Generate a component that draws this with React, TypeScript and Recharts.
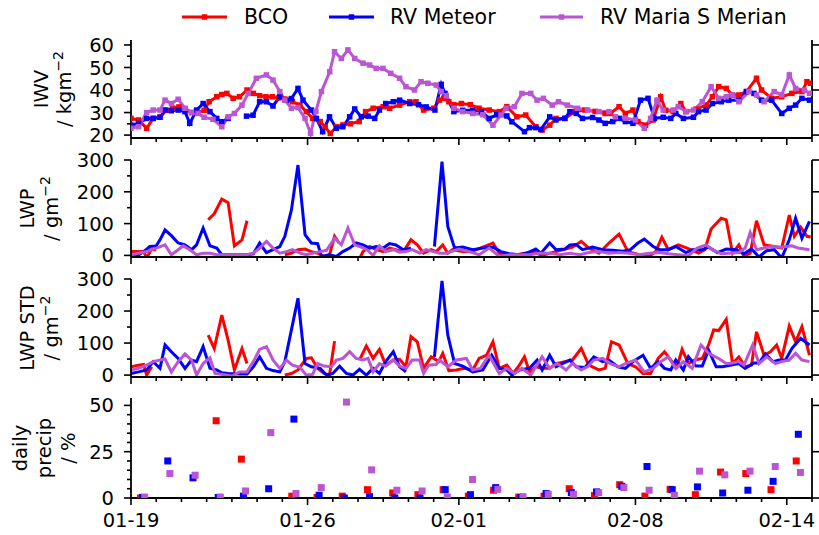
import React from 'react'
import { LineChart, Line, ScatterChart, Scatter, XAxis, YAxis } from 'recharts'

const RED = '#ff0000'
const BLUE = '#0000ff'
const PURPLE = '#ba55d3'
const FONT = '"DejaVu Sans", sans-serif'

type Pt = [number, number | null]

// time axis: days since 01-19 00:00
const dayTicks = [0, 1, 2, 3, 4, 5, 6, 7, 8, 9, 10, 11, 12, 13, 14, 15, 16, 17, 18, 19, 20, 21, 22, 23, 24, 25, 26, 27]
const dateTickDays = [0, 7, 13, 20, 26]
const dateLabels = ['01-19', '01-26', '02-01', '02-08', '02-14']

// IWV / kg m-2
const iwvBco: Pt[] = [
  [0, 27.4], [0.3, 26.7], [0.62, 23], [0.88, 27.4], [1.15, 28], [1.4, 31], [1.65, 32], [1.9, 32.5], [2.15, 31.5],
  [2.4, 30], [2.65, 30], [2.9, 31], [3.1, 34.8], [3.4, 37], [3.6, 38], [3.8, 38.5], [4.05, 36.3], [4.3, 37],
  [4.6, 40], [4.85, 38.5], [5.1, 37.5], [5.35, 37], [5.6, 37], [5.85, 36.5], [6.1, 36], [6.4, 34.8], [6.7, 33.3],
  [6.95, 30.4], [7.2, 27.4], [7.5, 26], [7.7, 23.5], [7.9, 20.7], [8.15, 23.7], [8.4, 24.5], [8.7, 25], [9.05, 26],
  [9.3, 30.4], [9.6, 31.9], [10, 32.6], [10.25, 31.9], [10.65, 33.3], [11.05, 34.8], [11.3, 34.8], [11.6, 31.1],
  [12, 31.9], [12.23, 35.5], [12.4, 36.3], [12.6, 34.8], [12.8, 33.5], [13.1, 34], [13.45, 33.5], [13.8, 31.9],
  [14.2, 31.1], [14.6, 30.4], [14.9, 32.6], [15.3, 28.1], [15.65, 28.9], [16.05, 23.7], [16.3, 22.2], [16.6, 24.4],
  [16.85, 27.4], [17.2, 27.4], [17.6, 30.4], [18, 31.1], [18.4, 30.5], [18.8, 29.6], [19, 29.6], [19.35, 32.6],
  [19.6, 29.6], [19.9, 31.1], [20.1, 26], [20.4, 24.4], [20.7, 26.7], [21, 37], [21.2, 31], [21.5, 30.4], [21.8, 34],
  [22, 30.4], [22.4, 31.5], [22.8, 33.3], [23.05, 37], [23.3, 41.5], [23.6, 40.7], [23.85, 37.8], [24.1, 37.8],
  [24.4, 39.3], [24.8, 45.2], [25, 40], [25.4, 36.3], [25.8, 37], [26.2, 38.5], [26.6, 39.3], [26.8, 43.7], [26.95, 43],
]
const iwvMeteor: Pt[] = [
  [0, 24.4], [0.3, 25.2], [0.62, 27.4], [0.88, 27.4], [1.15, 27.9], [1.35, 31.1], [1.6, 30.8], [1.87, 31.1],
  [2.14, 30.4], [2.33, 25.2], [2.6, 31.1], [2.86, 34], [3.13, 30.4], [3.4, 27.4], [3.6, 25.9], [3.85, 27.4],
  [4.2, null], [4.58, 28.4], [4.84, 28.8], [5.1, 34.8], [5.37, 34.8], [5.63, 32.9], [5.9, 37], [6.16, 35.5],
  [6.36, 36.2], [6.62, 40.7], [6.82, 35.5], [7.15, 31.1], [7.35, 27.4], [7.6, 21.5], [7.87, 28.1], [8.14, 23],
  [8.4, 23.7], [8.67, 28.1], [8.87, 31.6], [9.13, 28.1], [9.4, 28.4], [9.66, 27.4], [9.85, 31.1], [10.1, 34],
  [10.4, 34.8], [10.65, 35.5], [11.05, 34], [11.4, 33.5], [11.7, 32.5], [12.05, 31.1], [12.3, 42.5], [12.45, 38.5],
  [12.8, 30.4], [13.15, 31], [13.55, 31], [13.9, 30.4], [14.2, 27.4], [14.5, 29], [14.9, 28.5], [15.1, 25.9],
  [15.6, 21.5], [15.8, 23.3], [16.05, 23.3], [16.25, 22.5], [16.6, 28.1], [16.85, 26.7], [17.2, 27.4], [17.4, 30.4],
  [17.65, 29.6], [17.9, 27.4], [18.3, 27.8], [18.55, 26.7], [18.8, 25.2], [19.1, 26], [19.35, 27.4], [19.6, 26],
  [19.9, 25.2], [20.2, 35.5], [20.5, 36.3], [20.75, 27.4], [21.1, 27.9], [21.4, 27.4], [21.6, 29.6], [21.9, 27.4],
  [22.3, 27.9], [22.5, 30.4], [22.8, 31.1], [23.05, 34], [23.4, 34.8], [23.7, 35.5], [24.1, 35.5], [24.4, 39.3],
  [24.7, 38.5], [25, 35.5], [25.4, 35.5], [25.8, 29.6], [26.1, 31.9], [26.35, 33.3], [26.6, 36.3], [26.9, 35.5],
]
const iwvMerian: Pt[] = [
  [0, 23], [0.3, 23.7], [0.62, 30], [0.88, 31.1], [1.15, 31.1], [1.35, 35.5], [1.6, 34], [1.87, 35.9], [2.14, 31.9],
  [2.4, 30], [2.66, 29.6], [2.9, 27.9], [3.25, 27], [3.6, 23.7], [3.85, 28.1], [4.1, 29.6], [4.4, 33.3], [4.65, 38.5],
  [4.97, 45.2], [5.37, 46.7], [5.63, 44.4], [5.9, 39.3], [6.1, 35.5], [6.36, 31.9], [6.62, 32.2], [6.9, 27.4],
  [7.12, 20.7], [7.33, 30.5], [7.55, 39.3], [7.88, 48.1], [8.07, 57], [8.34, 54], [8.6, 57.8], [8.87, 54], [9.2, 51.9],
  [9.46, 51.1], [9.72, 49.6], [9.99, 49.6], [10.3, 47.4], [10.65, 45.2], [10.9, 41.5], [11.24, 40], [11.5, 43.7],
  [11.77, 43], [12.1, 42.2], [12.3, 39.3], [12.5, 37.5], [12.8, 31.9], [13.15, 30.4], [13.55, 29.6], [13.95, 29],
  [14.35, 24.4], [14.67, 28.9], [14.87, 31.9], [15.2, 32.6], [15.5, 38.5], [15.85, 38.5], [16.1, 35.5], [16.35, 36.3],
  [16.7, 33.3], [16.95, 34.8], [17.3, 33.3], [17.7, 31.9], [18.1, 31.1], [18.55, 30.4], [18.95, 30.4], [19.2, 28.1],
  [19.6, 27.5], [20, 26.7], [20.35, 23], [20.6, 27.4], [20.85, 35.5], [21.1, 31.1], [21.5, 31.1], [21.7, 32.6],
  [22, 30.4], [22.3, 31.1], [22.65, 34.8], [23, 41.5], [23.3, 36.3], [23.6, 37], [23.85, 37.8], [24.1, 34.8],
  [24.5, 39.3], [24.8, 37.8], [25.1, 34.8], [25.5, 39.3], [25.8, 37.8], [26.1, 46.7], [26.35, 40.7], [26.7, 40], [26.9, 38.5],
]

// LWP / g m-2
const lwpBco: Pt[] = [
  [0, 12], [0.2, 12], [0.5, 12], [0.62, -8], [0.8, 18], [1.0, 18], [1.5, null],
  [3.06, 112], [3.3, 131], [3.6, 177], [3.85, 166], [4.1, 30], [4.4, 49], [4.6, 109], [5.0, null],
  [6.1, 2], [6.36, 7], [6.62, 18], [6.9, 20], [7.15, 12], [7.4, 7], [7.65, -3], [7.87, 2], [8.07, 60], [8.25, 39], [8.6, null],
  [9.06, -10], [9.2, 12], [9.46, 28], [9.72, 18], [10, 12], [10.25, 23], [10.5, 18], [10.8, 12], [11.1, 49], [11.35, 33],
  [11.6, 7], [11.9, 18], [12.1, 12], [12.36, 33], [12.56, 7], [12.75, 18], [13.15, 12], [13.5, 12], [13.85, 23],
  [14.35, 39], [14.6, 7], [14.9, 2], [15.3, 2], [15.6, 7], [15.95, 12], [16.3, -1], [16.6, 7], [17, 15], [17.5, 26],
  [17.85, 44], [18.15, 23], [18.55, 7], [18.95, 39], [19.35, 67], [19.7, 12], [20.15, 2], [20.55, -3], [20.8, 12],
  [21.05, 57], [21.3, 18], [21.7, 33], [22.05, 23], [22.5, 7], [22.75, 18], [23, 83], [23.4, 117], [23.6, 112],
  [23.85, 7], [24.1, 33], [24.3, -3], [24.55, 7], [24.8, 109], [25.1, 33], [25.5, 28], [25.8, 23], [26.1, 127],
  [26.3, 60], [26.55, 89], [26.8, 60], [26.95, 58],
]
const lwpMeteor: Pt[] = [
  [0, -3], [0.22, -3], [0.5, 12], [0.75, 28], [1.0, 30], [1.15, 49], [1.35, 80], [1.6, 62], [1.87, 39], [2.14, 33],
  [2.4, 18], [2.6, 33], [2.86, 86], [3.13, 30], [3.4, 23], [3.6, 2], [3.85, 2], [4.2, 2], [4.6, 2], [4.85, 5],
  [5.1, 39], [5.37, 9], [5.63, 18], [5.9, 28], [6.1, 60], [6.36, 143], [6.62, 284], [6.9, 65], [7.15, 39], [7.4, 37],
  [7.55, -3], [7.87, 2], [8.14, -3], [8.4, 12], [8.67, 23], [8.93, 39], [9.2, 33], [9.46, 23], [9.72, 28], [10, 23],
  [10.25, 37], [10.5, 33], [10.8, 18], [11.1, 23], [11.5, null], [12.03, 28], [12.33, 295], [12.56, 91], [12.83, 23],
  [13.15, 26], [13.55, 18], [13.95, 23], [14.35, 26], [14.67, 12], [15, 5], [15.4, 2], [15.7, 7], [16.05, 20],
  [16.25, 7], [16.6, 39], [16.85, 18], [17.2, 20], [17.4, 33], [17.65, 34], [17.9, 18], [18.3, 26], [18.7, 18],
  [19.1, 16], [19.5, 13], [19.8, 18], [20.1, 39], [20.35, 51], [20.7, 28], [20.95, 18], [21.3, 18], [21.6, 28],
  [22, 9], [22.25, 18], [22.65, 18], [22.9, 26], [23.25, 9], [23.6, 20], [24, 18], [24.3, 5], [24.6, 20], [24.9, -5],
  [25.2, 15], [25.5, 18], [25.8, -8], [26.1, 49], [26.35, 117], [26.6, 54], [26.9, 107],
]
const lwpMerian: Pt[] = [
  [0, 2], [0.3, 7], [0.62, 12], [1.0, 23], [1.35, 33], [1.6, 2], [1.87, 18], [2.07, 30], [2.33, 18], [2.6, 2],
  [2.86, 7], [3.13, 7], [3.4, 2], [3.7, 2], [4.0, 2], [4.3, 2], [4.6, 2], [4.85, 7], [5.1, 23], [5.37, 44], [5.63, 23],
  [5.9, 7], [6.16, 12], [6.4, 18], [6.7, 7], [6.95, 2], [7.2, 7], [7.5, 12], [7.75, 16], [8.07, 54], [8.34, 33],
  [8.6, 86], [8.87, 33], [9.13, 26], [9.35, 18], [9.6, 0], [9.85, 30], [10.1, 12], [10.4, 18], [10.65, 10], [10.9, 12],
  [11.15, 18], [11.45, 7], [11.7, 18], [12.0, 12], [12.23, 7], [12.5, 7], [13.0, 20], [13.4, 12], [13.8, 2], [14.2, 23],
  [14.6, -3], [15, 2], [15.4, 2], [15.8, 2], [16.2, 7], [16.6, 7], [17, 2], [17.4, 7], [17.8, 2], [18.15, 9],
  [18.55, 12], [18.95, 7], [19.35, 9], [19.75, 7], [20.15, 2], [20.55, 7], [20.95, 9], [21.3, 5], [21.7, 2], [22.1, -1],
  [22.45, 23], [22.8, 33], [23.05, 18], [23.4, 5], [23.7, 7], [24.1, 9], [24.35, 23], [24.55, 72], [24.8, 18],
  [25.1, 23], [25.45, 28], [25.8, 26], [26.2, 30], [26.45, 23], [26.9, 18],
]

// LWP STD / g m-2
const stdBco: Pt[] = [
  [0, 26], [0.3, 31], [0.5, 33], [0.62, 0], [0.82, 26], [1.5, null],
  [3.06, 125], [3.3, 83], [3.6, 187], [3.85, 109], [4.1, 16], [4.4, 83], [4.6, 36], [5.0, null],
  [6.1, 0], [6.36, 5], [6.62, 16], [6.95, 52], [7.15, 54], [7.4, 21], [7.65, 5], [7.87, 0], [8.07, 106], [8.5, null],
  [9.06, 47], [9.33, 91], [9.6, 52], [9.85, 80], [10.1, 31], [10.4, 47], [10.65, 49], [10.9, 26], [11.1, 120],
  [11.35, 104], [11.6, 21], [11.9, 57], [12.2, 42], [12.36, 68], [12.6, 14], [12.9, 16], [13.2, 21], [13.55, 16],
  [13.8, 52], [14.1, 62], [14.35, 104], [14.6, 21], [14.9, 31], [15.15, 5], [15.4, 31], [15.6, 57], [15.8, 10],
  [16.05, 26], [16.3, 21], [16.6, 21], [16.85, 36], [17.2, 42], [17.5, 47], [17.85, 83], [18.15, 31], [18.55, 16],
  [18.8, 21], [19.05, 104], [19.35, 94], [19.7, 36], [20.0, 26], [20.3, 5], [20.6, 5], [20.9, 52], [21.15, 73],
  [21.4, 47], [21.65, 26], [21.85, 80], [22.1, 36], [22.35, 47], [22.65, 52], [22.9, 94], [23.1, 141], [23.3, 139],
  [23.6, 174], [23.85, 36], [24.1, 57], [24.35, 26], [24.6, 31], [24.8, 135], [25.1, 62], [25.35, 73], [25.6, 94],
  [25.8, 52], [26.1, 153], [26.35, 104], [26.6, 151], [26.9, 62],
]
const stdMeteor: Pt[] = [
  [0, 5], [0.3, 10], [0.62, 16], [0.88, 42], [1.15, 21], [1.35, 94], [1.6, 73], [1.87, 52], [2.14, 21], [2.4, 47],
  [2.6, 42], [2.86, 89], [3.13, 21], [3.4, 16], [3.6, 7], [3.85, 5], [4.3, 3], [4.6, 3], [4.85, 26], [5.1, 57],
  [5.37, 21], [5.63, 14], [5.9, 10], [6.1, 42], [6.36, 141], [6.62, 240], [6.9, 36], [7.15, 26], [7.5, 21], [7.75, 0],
  [8.0, 5], [8.27, 28], [8.54, 5], [8.8, 0], [9.06, 18], [9.33, 0], [9.6, 21], [9.85, 5], [10.1, 42], [10.4, 73],
  [10.65, 26], [10.9, 10], [11.4, null], [12.03, 57], [12.33, 294], [12.56, 125], [12.83, 36], [13.15, 28], [13.55, 10],
  [13.95, 16], [14.3, 62], [14.6, 21], [14.9, 16], [15.1, 0], [15.4, 16], [15.8, 21], [16.1, 47], [16.3, 16],
  [16.6, 62], [16.85, 26], [17.1, 36], [17.4, 47], [17.65, 26], [18, 24], [18.35, 57], [18.7, 42], [18.95, 47],
  [19.3, 26], [19.6, 21], [19.95, 45], [20.3, 62], [20.6, 21], [20.9, 42], [21.15, 21], [21.4, 16], [21.6, 47],
  [21.9, 16], [22.1, 57], [22.4, 28], [22.65, 28], [22.9, 78], [23.2, 26], [23.45, 26], [23.8, 31], [24.1, 36],
  [24.35, 21], [24.7, 38], [24.9, 38], [25.15, 66], [25.45, 42], [25.7, 47], [25.95, 47], [26.2, 83], [26.55, 115], [26.9, 94],
]
const stdMerian: Pt[] = [
  [0, 16], [0.3, 21], [0.62, 31], [0.88, 42], [1.35, 50], [1.6, 10], [1.87, 42], [2.14, 66], [2.4, 47], [2.6, 0],
  [2.86, 36], [3.13, 54], [3.33, 5], [3.65, 2], [4.0, -3], [4.3, 10], [4.6, 10], [4.85, 42], [5.1, 80], [5.37, 89],
  [5.63, 47], [5.9, 21], [6.16, 47], [6.4, 31], [6.7, 24], [6.95, 0], [7.2, 2], [7.4, 36], [7.65, 28], [7.95, 26],
  [8.14, 47], [8.4, 52], [8.67, 73], [8.93, 52], [9.2, 47], [9.4, 52], [9.6, 10], [9.85, 36], [10.1, 28], [10.4, 47],
  [10.65, 28], [10.9, 21], [11.15, 47], [11.44, 47], [11.6, 5], [11.8, 31], [12.1, 33], [12.23, 47], [12.56, 26],
  [12.9, 47], [13.3, 52], [13.55, 16], [13.85, 21], [14.2, 62], [14.6, 5], [14.9, 21], [15.2, 5], [15.5, 21],
  [15.85, 0], [16.05, 26], [16.3, 57], [16.6, 21], [16.9, 36], [17.25, 16], [17.5, 36], [17.85, 16], [18.1, 26],
  [18.35, 47], [18.7, 52], [19.0, 36], [19.35, 26], [19.6, 36], [20.0, 47], [20.35, 10], [20.7, 21], [21.0, 42],
  [21.3, 57], [21.6, 21], [21.9, 42], [22.25, 21], [22.6, 94], [22.9, 68], [23.3, 52], [23.6, 36], [23.85, 38],
  [24.1, 42], [24.3, 31], [24.65, 94], [24.9, 36], [25.2, 57], [25.55, 36], [25.8, 42], [26.1, 47], [26.35, 68],
  [26.6, 47], [26.9, 42],
]

// daily precipitation fraction / %, one value per day from 01-19
const precipBco = [0, null, null, 41.7, 21, null, 1, 0.3, 1, 4.5, 2.7, 1.8, 4.5, 1, 4.2, 0.5, 1, 5, 1.3, 7.2, 1, 4.7, 1.8, 14, 13.2, 4.5, 20]
const precipMeteor = [0.3, 20, 10.9, 0.3, 1, 5, 42.6, 1.5, 0, 0.7, 0, 0, 4.5, 1.8, 5.6, 0.2, 2.4, 2.9, 3.3, 6.3, 17, 4.5, 6, 2.7, 4.2, 9, 34.4]
const precipMerian = [0.5, 13.2, 12.3, 0.5, 3.8, 35.3, 2.4, 5.6, 51.8, 15.2, 4.2, 3.8, 0.5, 10, 4.7, 0.7, 2, 2, 2.9, 5.6, 4.2, 1.5, 14.5, 12.5, 14.5, 17, 13.8]

const rows = (pts: Pt[]) => pts.map(([t, v]) => ({ t, v }))
const dailyRows = (vals: (number | null)[], shift: number) =>
  vals.map((v, i) => ({ t: i + shift, v })).filter((r) => r.v != null)

const squareDot = (color: string, size: number) => (p: any) => {
  const k = p.key ?? `d${p.index}`
  if (p.cx == null || p.cy == null || p.value == null) return <g key={k} />
  return <rect key={k} x={p.cx - size / 2} y={p.cy - size / 2} width={size} height={size} fill={color} />
}

function XTick(props: any) {
  const { x, y, payload, showLabels } = props
  const i = dateTickDays.indexOf(payload.value)
  const major = i >= 0
  return (
    <g>
      <line x1={x} y1={y} x2={x} y2={y + (major ? 7 : 4)} stroke="#000" strokeWidth={1.6} />
      {showLabels && major && (
        <text x={x} y={y + 29} textAnchor="middle" fontSize={19.5} fontFamily={FONT} fill="#000">
          {dateLabels[i]}
        </text>
      )}
    </g>
  )
}

function LeftTick(props: any) {
  const { x, y, payload, step } = props
  const v = payload.value
  const major = Math.abs(v % step) < 1e-6
  return (
    <g>
      <line x1={x} y1={y} x2={x - (major ? 7 : 4)} y2={y} stroke="#000" strokeWidth={1.6} />
      {major && (
        <text x={x - 17} y={y} dy="0.36em" textAnchor="end" fontSize={19.5} fontFamily={FONT} fill="#000">
          {v}
        </text>
      )}
    </g>
  )
}

function RightTick(props: any) {
  const { x, y } = props
  return <line x1={x} y1={y} x2={x + 7} y2={y} stroke="#000" strokeWidth={1.6} />
}

// a title line is [text, superscript]
function Title({ lines, xs, cy }: { lines: [string, string][]; xs: number[]; cy: number }) {
  return (
    <g>
      {lines.map(([s, sup], i) => (
        <text key={i} transform={`translate(${xs[i]},${cy}) rotate(-90)`} textAnchor="middle" fontSize={19.5} fontFamily={FONT} fill="#000">
          {s}
          {sup && (
            <tspan dy={-8} fontSize={14}>
              {sup}
            </tspan>
          )}
        </text>
      ))}
    </g>
  )
}

const axisLine = { stroke: '#000', strokeWidth: 1.8 }

interface PanelProps {
  top: number
  plotHeight: number
  domain: [number, number]
  ticks: number[]
  majors: number[]
  step: number
  title: [string, string][]
  titleXs: number[]
  series: { data: Pt[]; color: string; dots: boolean }[]
}

function LinePanel({ top, plotHeight, domain, ticks, majors, step, title, titleXs, series }: PanelProps) {
  const mt = 12
  return (
    <div style={{ position: 'absolute', left: 0, top: top - mt }}>
      <LineChart width={819} height={mt + plotHeight + 20} margin={{ top: mt, right: 0, left: 0, bottom: 0 }}>
        <XAxis
          dataKey="t"
          type="number"
          domain={[0, 27]}
          allowDataOverflow
          ticks={dayTicks}
          interval={0}
          height={20}
          tickSize={0}
          tickMargin={0}
          tickLine={false}
          axisLine={axisLine}
          tick={(p: any) => <XTick {...p} showLabels={false} />}
        />
        <YAxis
          yAxisId="l"
          type="number"
          domain={domain}
          allowDataOverflow
          ticks={ticks}
          interval={0}
          width={131}
          tickSize={0}
          tickMargin={0}
          tickLine={false}
          axisLine={axisLine}
          tick={(p: any) => <LeftTick {...p} step={step} />}
          label={{ content: () => <Title lines={title} xs={titleXs} cy={mt + plotHeight / 2} /> }}
        />
        <YAxis
          yAxisId="r"
          orientation="right"
          type="number"
          domain={domain}
          allowDataOverflow
          ticks={majors}
          interval={0}
          width={7}
          tickSize={0}
          tickMargin={0}
          tickLine={false}
          axisLine={axisLine}
          tick={(p: any) => <RightTick {...p} />}
        />
        {series.map((s, i) => (
          <Line
            key={i}
            yAxisId="l"
            data={rows(s.data)}
            dataKey="v"
            type="linear"
            stroke={s.color}
            strokeWidth={3}
            dot={s.dots ? squareDot(s.color, 5.5) : false}
            activeDot={false}
            connectNulls={false}
            isAnimationActive={false}
          />
        ))}
      </LineChart>
    </div>
  )
}

function PrecipPanel() {
  const mt = 12
  const plotHeight = 100
  const sets = [
    { data: dailyRows(precipBco, 0.375), color: RED },
    { data: dailyRows(precipMeteor, 0.458), color: BLUE },
    { data: dailyRows(precipMerian, 0.542), color: PURPLE },
  ]
  return (
    <div style={{ position: 'absolute', left: 0, top: 398 - mt }}>
      <ScatterChart width={819} height={mt + plotHeight + 37} margin={{ top: mt, right: 0, left: 0, bottom: 0 }}>
        <XAxis
          dataKey="t"
          type="number"
          domain={[0, 27]}
          allowDataOverflow
          ticks={dayTicks}
          interval={0}
          height={37}
          tickSize={0}
          tickMargin={0}
          tickLine={false}
          axisLine={axisLine}
          tick={(p: any) => <XTick {...p} showLabels />}
        />
        <YAxis
          yAxisId="l"
          dataKey="v"
          type="number"
          domain={[0, 54]}
          allowDataOverflow
          ticks={[0, 5, 10, 15, 20, 25, 30, 35, 40, 45, 50]}
          interval={0}
          width={131}
          tickSize={0}
          tickMargin={0}
          tickLine={false}
          axisLine={axisLine}
          tick={(p: any) => <LeftTick {...p} step={25} />}
          label={{
            content: () => (
              <Title lines={[['daily', ''], ['precip', ''], ['/ %', '']]} xs={[27, 51, 75]} cy={mt + plotHeight / 2} />
            ),
          }}
        />
        <YAxis
          yAxisId="r"
          orientation="right"
          dataKey="v"
          type="number"
          domain={[0, 54]}
          allowDataOverflow
          ticks={[0, 25, 50]}
          interval={0}
          width={7}
          tickSize={0}
          tickMargin={0}
          tickLine={false}
          axisLine={axisLine}
          tick={(p: any) => <RightTick {...p} />}
        />
        {sets.map((s, i) => (
          <Scatter
            key={i}
            yAxisId="l"
            data={s.data}
            fill={s.color}
            isAnimationActive={false}
            shape={(p: any) => <rect x={p.cx - 3.5} y={p.cy - 3.5} width={7} height={7} fill={s.color} />}
          />
        ))}
      </ScatterChart>
    </div>
  )
}

function TopLegend() {
  const items = [
    { name: 'BCO', color: RED, x0: 182, x1: 227, tx: 244 },
    { name: 'RV Meteor', color: BLUE, x0: 329, x1: 374, tx: 390 },
    { name: 'RV Maria S Merian', color: PURPLE, x0: 540, x1: 583, tx: 600 },
  ]
  return (
    <svg width={819} height={36} style={{ position: 'absolute', left: 0, top: 0 }}>
      {items.map((it) => (
        <g key={it.name}>
          <line x1={it.x0} y1={17} x2={it.x1} y2={17} stroke={it.color} strokeWidth={3} />
          <rect x={(it.x0 + it.x1) / 2 - 2.75} y={14.25} width={5.5} height={5.5} fill={it.color} />
          <text x={it.tx} y={24} fontSize={20.5} fontFamily={FONT} fill="#000">
            {it.name}
          </text>
        </g>
      ))}
    </svg>
  )
}

export default function App() {
  return (
    <div style={{ position: 'absolute', left: 0, top: 0, width: 819, height: 535, background: '#fff', fontFamily: FONT }}>
      <TopLegend />
      <LinePanel
        top={40}
        plotHeight={98}
        domain={[18.7, 62.2]}
        ticks={[20, 25, 30, 35, 40, 45, 50, 55, 60]}
        majors={[20, 30, 40, 50, 60]}
        step={10}
        title={[['IWV', ''], ['/ kgm', '−2']]}
        titleXs={[48, 71]}
        series={[
          { data: iwvBco, color: RED, dots: true },
          { data: iwvMeteor, color: BLUE, dots: true },
          { data: iwvMerian, color: PURPLE, dots: true },
        ]}
      />
      <LinePanel
        top={160}
        plotHeight={97}
        domain={[-5, 300]}
        ticks={[0, 50, 100, 150, 200, 250, 300]}
        majors={[0, 100, 200, 300]}
        step={100}
        title={[['LWP', ''], ['/ gm', '−2']]}
        titleXs={[34, 58]}
        series={[
          { data: lwpBco, color: RED, dots: false },
          { data: lwpMeteor, color: BLUE, dots: false },
          { data: lwpMerian, color: PURPLE, dots: false },
        ]}
      />
      <LinePanel
        top={279}
        plotHeight={98}
        domain={[-6, 300]}
        ticks={[0, 50, 100, 150, 200, 250, 300]}
        majors={[0, 100, 200, 300]}
        step={100}
        title={[['LWP STD', ''], ['/ gm', '−2']]}
        titleXs={[34, 58]}
        series={[
          { data: stdBco, color: RED, dots: false },
          { data: stdMeteor, color: BLUE, dots: false },
          { data: stdMerian, color: PURPLE, dots: false },
        ]}
      />
      <PrecipPanel />
    </div>
  )
}
